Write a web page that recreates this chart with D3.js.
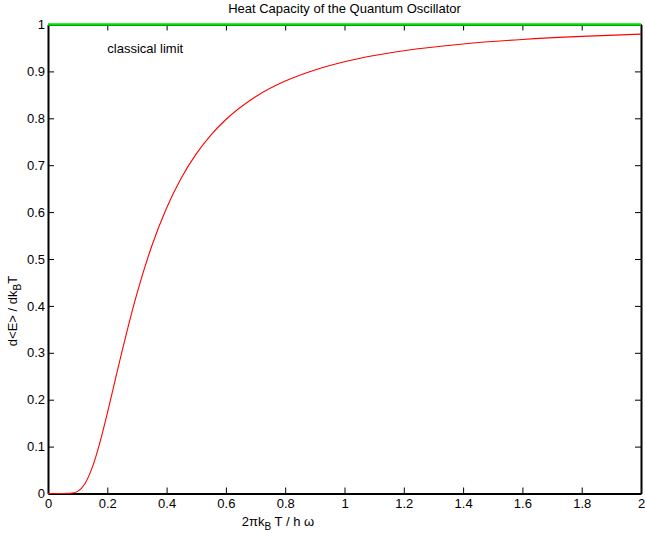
<!DOCTYPE html>
<html>
<head>
<meta charset="utf-8">
<script src="https://cdn.jsdelivr.net/npm/d3@7"></script>
<style>
  body { margin: 0; background: #fff; }
  text { font-family: "Liberation Sans", Arial, sans-serif; fill: #000; }
</style>
</head>
<body>
<div id="chart"></div>
<script>
// temperature (2πkT/hω) and heat capacity
const temps = [0, 0.05, 0.075, 0.0875, 0.1, 0.125, 0.15, 0.175, 0.2, 0.225, 0.25, 0.275, 0.3, 0.35, 0.4, 0.45, 0.5, 0.55, 0.6, 0.7, 0.8, 0.9, 1.0, 1.1, 1.2, 1.4, 1.6, 1.8, 2.0];
const heatCap = [0, 0, 0.0003, 0.0014, 0.0045, 0.0215, 0.0567, 0.1085, 0.1707, 0.2376, 0.3041, 0.3676, 0.4262, 0.5278, 0.6089, 0.6732, 0.7241, 0.7647, 0.7974, 0.8460, 0.8794, 0.9032, 0.9207, 0.9339, 0.9441, 0.9585, 0.9681, 0.9747, 0.9794];
// classical limit line
const classicalT = [0, 2];
const classicalC = [1, 1];

const xTicks = [0, 0.2, 0.4, 0.6, 0.8, 1, 1.2, 1.4, 1.6, 1.8, 2];
const yTicks = [0, 0.1, 0.2, 0.3, 0.4, 0.5, 0.6, 0.7, 0.8, 0.9, 1];

const W = 645, H = 533;
const margin = {top: 24.5, right: 4, bottom: 39.5, left: 48};
const w = W - margin.left - margin.right,
    h = H - margin.top - margin.bottom;

const svg = d3.select("#chart")
    .append("svg")
    .attr("width", W)
    .attr("height", H);

const g = svg.append("g")
    .attr("transform", `translate(${margin.left},${margin.top})`);

const x = d3.scaleLinear().domain([0, 2]).range([0, w]);
const y = d3.scaleLinear().domain([0, 1]).range([h, 0]);

const fmt = d => d3.format("")(d);

// bottom axis
const xAxis = g.append("g")
    .attr("transform", `translate(0,${h})`)
    .call(d3.axisBottom(x).tickValues(xTicks).tickFormat(fmt).tickSize(-6).tickSizeOuter(0).tickPadding(5));
// left axis
const yAxis = g.append("g")
    .call(d3.axisLeft(y).tickValues(yTicks).tickFormat(fmt).tickSize(-6).tickSizeOuter(0).tickPadding(3));
// top and right mirror axes
const topAxis = g.append("g")
    .call(d3.axisTop(x).tickValues(xTicks).tickFormat("").tickSize(-6).tickSizeOuter(0));
const rightAxis = g.append("g")
    .attr("transform", `translate(${w},0)`)
    .call(d3.axisRight(y).tickValues(yTicks).tickFormat("").tickSize(-6).tickSizeOuter(0));

[xAxis, yAxis, topAxis, rightAxis].forEach(a => {
    a.select(".domain").attr("stroke-width", 2);
    a.selectAll(".tick line").attr("stroke-width", 1);
    a.selectAll("text").style("font-size", "13px");
});

// classical limit
const line = d3.line().x(d => x(d[0])).y(d => y(d[1]));
g.append("path")
    .datum(d3.zip(classicalT, classicalC))
    .attr("fill", "none")
    .attr("stroke", "#00dd00")
    .attr("stroke-width", 2.5)
    .attr("d", line);

// quantum curve
g.append("path")
    .datum(d3.zip(temps, heatCap))
    .attr("fill", "none")
    .attr("stroke", "#ff0000")
    .attr("stroke-width", 1.1)
    .attr("d", line.curve(d3.curveMonotoneX));

g.append("text")
    .attr("x", x(0.2))
    .attr("y", y(0.94))
    .style("font-size", "13px")
    .text("classical limit");

// title
svg.append("text")
    .attr("x", margin.left + w / 2)
    .attr("y", 13)
    .attr("text-anchor", "middle")
    .style("font-size", "13px")
    .text("Heat Capacity of the Quantum Oscillator");

// x label
const xl = svg.append("text")
    .attr("x", 278)
    .attr("y", 526)
    .attr("text-anchor", "middle")
    .style("font-size", "13px");
xl.append("tspan").text("2πk");
xl.append("tspan").attr("dy", 4).style("font-size", "10px").text("B");
xl.append("tspan").attr("dy", -4).text(" T / h ω");

// y label
const yl = svg.append("text")
    .attr("transform", "translate(17,311) rotate(-90)")
    .attr("text-anchor", "middle")
    .style("font-size", "13px");
yl.append("tspan").text("d<E> / dk");
yl.append("tspan").attr("dy", 4).style("font-size", "10px").text("B");
yl.append("tspan").attr("dy", -4).text("T");
</script>
</body>
</html>
